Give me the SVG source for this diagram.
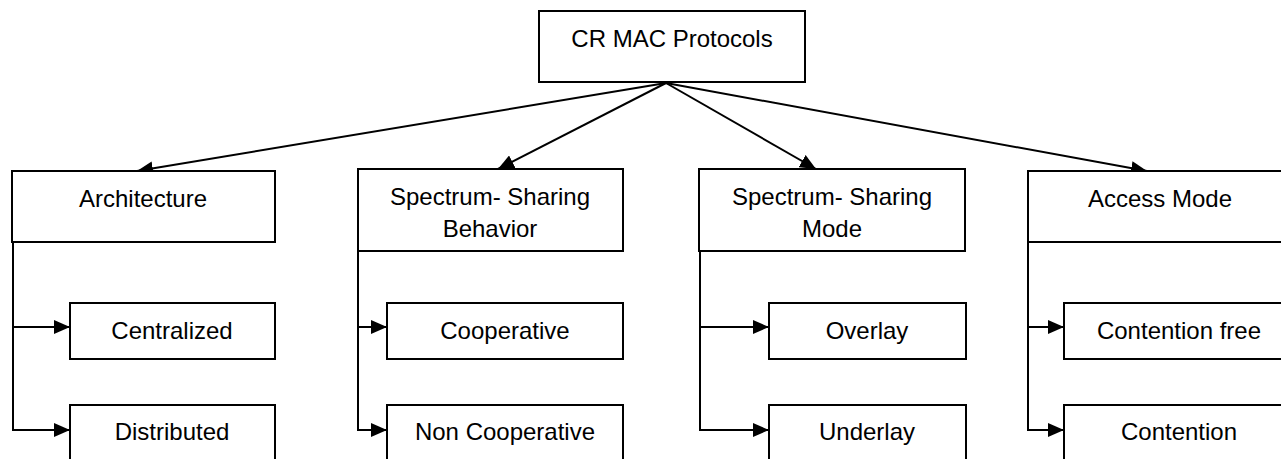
<svg xmlns="http://www.w3.org/2000/svg" width="1281" height="459" viewBox="0 0 1281 459">
<style>
.box{fill:#fff;stroke:#000;stroke-width:2}
.t{font-family:"Liberation Sans",Arial,sans-serif;font-size:24px;fill:#000;text-anchor:middle}
.c{fill:none;stroke:#000;stroke-width:2}
</style>
<defs>
<marker id="ah" viewBox="0 0 16 14" refX="16" refY="7" markerWidth="16" markerHeight="14" markerUnits="userSpaceOnUse" orient="auto">
<path d="M0,0 L16,7 L0,14 z" fill="#000"/>
</marker>
</defs>
<rect width="1281" height="459" fill="#fff"/>
<g id="connectors">
<line class="c" x1="666" y1="83" x2="137" y2="171" marker-end="url(#ah)"/>
<line class="c" x1="666" y1="83" x2="498" y2="169" marker-end="url(#ah)"/>
<line class="c" x1="666" y1="83" x2="816" y2="169" marker-end="url(#ah)"/>
<line class="c" x1="666" y1="83" x2="1147" y2="171" marker-end="url(#ah)"/>
<path class="c" d="M13,242 V430 H70" marker-end="url(#ah)"/>
<line class="c" x1="13" y1="327" x2="70" y2="327" marker-end="url(#ah)"/>
<path class="c" d="M358,251 V430 H387" marker-end="url(#ah)"/>
<line class="c" x1="358" y1="327" x2="387" y2="327" marker-end="url(#ah)"/>
<path class="c" d="M700,251 V430 H769" marker-end="url(#ah)"/>
<line class="c" x1="700" y1="327" x2="769" y2="327" marker-end="url(#ah)"/>
<path class="c" d="M1028,242 V430 H1064" marker-end="url(#ah)"/>
<line class="c" x1="1028" y1="327" x2="1064" y2="327" marker-end="url(#ah)"/>
</g>
<g id="root"><rect class="box" x="539" y="11" width="266" height="71"/><text class="t" x="672" y="47">CR MAC Protocols</text></g>
<g id="architecture"><rect class="box" x="12" y="171" width="263" height="71"/><text class="t" x="143" y="207">Architecture</text></g>
<g id="behavior"><rect class="box" x="358" y="169" width="265" height="82"/><text class="t" x="490" y="205">Spectrum- Sharing</text><text class="t" x="490" y="237">Behavior</text></g>
<g id="mode"><rect class="box" x="699" y="169" width="266" height="82"/><text class="t" x="832" y="205">Spectrum- Sharing</text><text class="t" x="832" y="237">Mode</text></g>
<g id="access"><rect class="box" x="1028" y="171" width="270" height="71"/><text class="t" x="1160" y="207">Access Mode</text></g>
<g id="centralized"><rect class="box" x="70" y="303" width="205" height="56"/><text class="t" x="172" y="339">Centralized</text></g>
<g id="distributed"><rect class="box" x="70" y="405" width="205" height="70"/><text class="t" x="172" y="440">Distributed</text></g>
<g id="cooperative"><rect class="box" x="387" y="303" width="236" height="56"/><text class="t" x="505" y="339">Cooperative</text></g>
<g id="noncooperative"><rect class="box" x="387" y="405" width="236" height="70"/><text class="t" x="505" y="440">Non Cooperative</text></g>
<g id="overlay"><rect class="box" x="769" y="303" width="197" height="56"/><text class="t" x="867" y="339">Overlay</text></g>
<g id="underlay"><rect class="box" x="769" y="405" width="197" height="70"/><text class="t" x="867" y="440">Underlay</text></g>
<g id="contentionfree"><rect class="box" x="1064" y="303" width="230" height="56"/><text class="t" x="1179" y="339">Contention free</text></g>
<g id="contention"><rect class="box" x="1064" y="405" width="230" height="70"/><text class="t" x="1179" y="440">Contention</text></g>
</svg>
